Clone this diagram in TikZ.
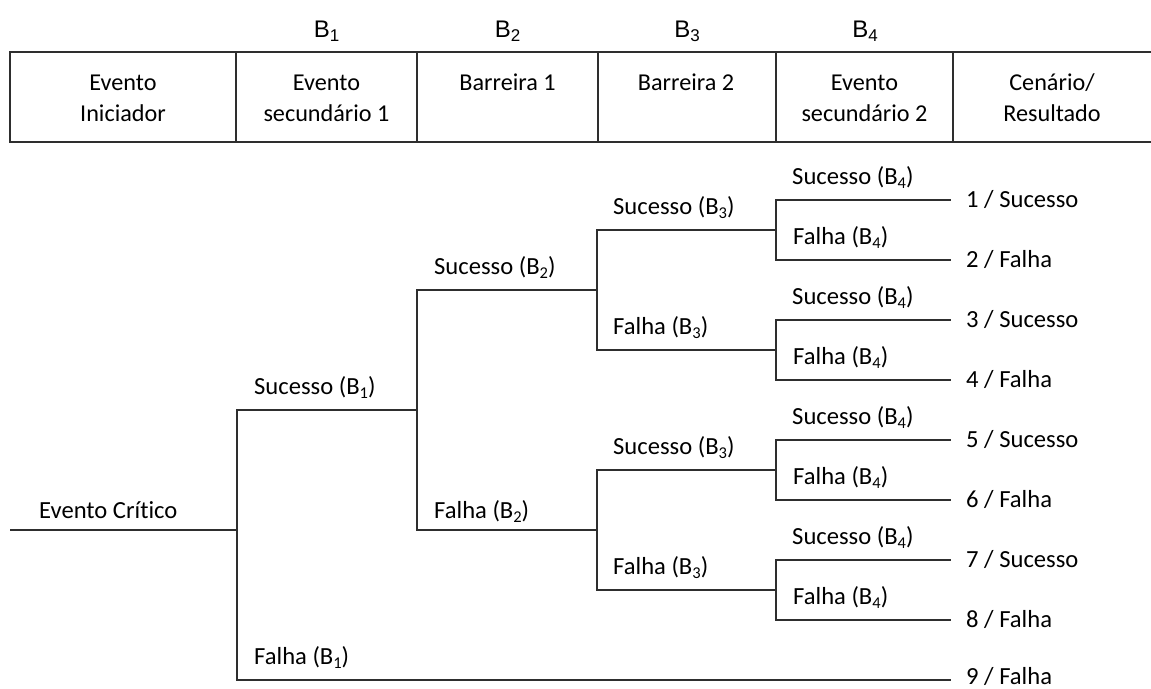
\documentclass[tikz,border=0pt]{standalone}
\usepackage{fontspec}
\setmainfont{Carlito}[Ligatures=NoCommon]
\newfontfamily\arialfont{Liberation Sans}
% lowered indices for the barrier names
\newcommand\lowidx[1]{\raisebox{-4pt}{\fontsize{16.5}{16.5}\selectfont #1}}
\newcommand\headidx[1]{\raisebox{-5pt}{\fontsize{17}{17}\selectfont #1}}
\begin{document}
\begin{tikzpicture}[x=1pt,y=-1pt,
  wire/.style={line width=1.9pt, draw=black!82},
  grid/.style={line width=1.9pt, draw=black!82},
  lab/.style={anchor=base west, inner sep=0pt, font=\fontsize{24.6}{29}\selectfont},
  outc/.style={lab},
  head/.style={anchor=north, inner sep=0pt, align=center, font=\fontsize{24.2}{31}\selectfont},
  bar/.style={anchor=base, inner sep=0pt, font=\arialfont\fontsize{24}{29}\selectfont}]
\useasboundingbox (0,0) rectangle (1151,688);
\fill[white] (0,0) rectangle (1151,688);

% header table
\draw[grid] (10,52) rectangle (1170,142);
\foreach \x in {236,417,598,776,953} \draw[grid] (\x,52) -- (\x,142);

\node[head] (h0) at (123,72)   {\rule{0pt}{18pt}Evento\\Iniciador};
\node[head] (h1) at (326.5,72) {\rule{0pt}{18pt}Evento\\secundário 1};
\node[head] (h2) at (507.5,72) {\rule{0pt}{18pt}Barreira 1};
\node[head] (h3) at (686,72)   {\rule{0pt}{18pt}Barreira 2};
\node[head] (h4) at (864.5,72) {\rule{0pt}{18pt}Evento\\secundário 2};
\node[head] (h5) at (1052,72)  {\rule{0pt}{18pt}Cenário/\\Resultado};

% barrier names above the columns
\node[bar] (hb1) at (326.5,37) {B\headidx{1}};
\node[bar] (hb2) at (507.5,37) {B\headidx{2}};
\node[bar] (hb3) at (687,37)   {B\headidx{3}};
\node[bar] (hb4) at (865,37)   {B\headidx{4}};

% branching points of the event tree
\coordinate (root) at (10,530);
\coordinate (n1)  at (237,530);
\coordinate (n2)  at (417,410);
\coordinate (n3a) at (597,290);
\coordinate (n3b) at (597,530);
\coordinate (n4a) at (776,230);
\coordinate (n4b) at (776,350);
\coordinate (n4c) at (776,470);
\coordinate (n4d) at (776,590);
\foreach \i/\y in {1/200,2/260,3/320,4/380,5/440,6/500,7/560,8/620,9/680}
  \coordinate (e\i) at (951,\y);

% branches
\draw[wire] (root) -- (n1);
\draw[wire] (n1) |- (n2);
\draw[wire] (n1) |- (e9);
\draw[wire] (n2) |- (n3a);
\draw[wire] (n2) |- (n3b);
\draw[wire] (n3a) |- (n4a);
\draw[wire] (n3a) |- (n4b);
\draw[wire] (n3b) |- (n4c);
\draw[wire] (n3b) |- (n4d);
\draw[wire] (n4a) |- (e1);
\draw[wire] (n4a) |- (e2);
\draw[wire] (n4b) |- (e3);
\draw[wire] (n4b) |- (e4);
\draw[wire] (n4c) |- (e5);
\draw[wire] (n4c) |- (e6);
\draw[wire] (n4d) |- (e7);
\draw[wire] (n4d) |- (e8);

% branch labels
\node[lab] (ec)  at (39,518)  {Evento Crítico};
\node[lab] (s1)  at (254,394) {Sucesso (B\lowidx{1})};
\node[lab] (f1)  at (254,664) {Falha (B\lowidx{1})};
\node[lab] (s2)  at (434,274) {Sucesso (B\lowidx{2})};
\node[lab] (f2)  at (434,518) {Falha (B\lowidx{2})};
\node[lab] (s3a) at (613,214) {Sucesso (B\lowidx{3})};
\node[lab] (f3a) at (613,334) {Falha (B\lowidx{3})};
\node[lab] (s3b) at (613,454) {Sucesso (B\lowidx{3})};
\node[lab] (f3b) at (613,574) {Falha (B\lowidx{3})};
\foreach \k/\ys/\yf in {a/184/244,b/304/364,c/424/484,d/544/604}{
  \node[lab] (s4\k) at (792,\ys) {Sucesso (B\lowidx{4})};
  \node[lab] (f4\k) at (793,\yf) {Falha (B\lowidx{4})};
}

% scenario outcomes
\node[outc] (o1) at (966,207) {1 / Sucesso};
\node[outc] (o2) at (966,267) {2 / Falha};
\node[outc] (o3) at (966,327) {3 / Sucesso};
\node[outc] (o4) at (966,387) {4 / Falha};
\node[outc] (o5) at (966,447) {5 / Sucesso};
\node[outc] (o6) at (966,507) {6 / Falha};
\node[outc] (o7) at (966,567) {7 / Sucesso};
\node[outc] (o8) at (966,627) {8 / Falha};
\node[outc] (o9) at (966,684) {9 / Falha};
\end{tikzpicture}
\end{document}
